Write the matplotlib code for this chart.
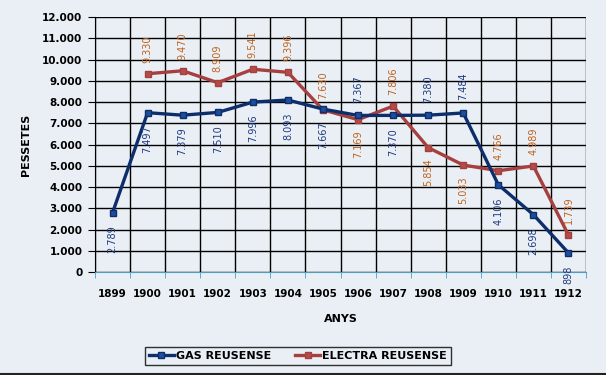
import matplotlib.pyplot as plt
from matplotlib.ticker import FuncFormatter

anys = ['1899', '1900', '1901', '1902', '1903', '1904', '1905', '1906',
        '1907', '1908', '1909', '1910', '1911', '1912']
gas = [2789, 7497, 7379, 7510, 7996, 8093, 7667, 7367, 7370, 7380, 7484, 4106, 2698, 898]
electra = [None, 9330, 9470, 8909, 9541, 9396, 7630, 7169, 7806, 5854, 5033, 4766, 4989, 1739]

# on posa l'etiqueta a sobre (1) o a sota (-1) del punt
gas_pos = [-1, -1, -1, -1, -1, -1, -1, 1, -1, 1, 1, -1, -1, -1]
ele_pos = [0, 1, 1, 1, 1, 1, 1, -1, 1, -1, -1, 1, 1, 1]

bg = '#e9eff5'
c_gas = '#0d2d6b'
c_gas_m = '#1c4f9c'
c_ele = '#a5403e'
c_ele_m = '#b24c4a'

fig = plt.figure(figsize=(6.06, 3.75), dpi=100, facecolor=bg)
ax = fig.add_axes([95/606, 1-272/375, (586-95)/606, (272-17)/375])
ax.set_facecolor(bg)

x = list(range(len(anys)))
ex = [i for i, v in zip(x, electra) if v is not None]
ev = [v for v in electra if v is not None]

ax.plot(x, gas, color=c_gas, lw=2.4, marker='s', ms=5, mfc=c_gas_m, mec=c_gas,
        label='GAS REUSENSE', zorder=4)
ax.plot(ex, ev, color=c_ele, lw=2.4, marker='s', ms=5, mfc=c_ele_m, mec=c_ele,
        label='ELECTRA REUSENSE', zorder=3)

def fmt(v):
    return f'{v:,}'.replace(',', '.')

for i, v in enumerate(gas):
    d = gas_pos[i]
    ax.annotate(fmt(v), (i, v), xytext=(0, 9*d), textcoords='offset points',
                rotation=90, ha='center', va='bottom' if d > 0 else 'top',
                fontsize=7, color='#1f3a80', zorder=5)
for i, v in enumerate(electra):
    if v is None:
        continue
    d = ele_pos[i]
    ax.annotate(fmt(v), (i, v), xytext=(0, 8*d), textcoords='offset points',
                rotation=90, ha='center', va='bottom' if d > 0 else 'top',
                fontsize=7, color='#c0621c', zorder=5)

ax.set_xlim(-0.5, 13.5)
ax.set_ylim(0, 12000)
ax.set_yticks(range(0, 12001, 1000))
ax.yaxis.set_major_formatter(FuncFormatter(lambda v, p: fmt(int(v))))
ax.set_xticks(x)
ax.set_xticklabels(anys)
ax.set_xticks([i - 0.5 for i in range(15)], minor=True)
ax.tick_params(axis='x', which='major', length=0, pad=12)
ax.tick_params(axis='x', which='minor', length=4, color='#4a9ec0', direction='out')
ax.tick_params(axis='y', length=5, color='black', pad=4)
for lab in ax.get_xticklabels() + ax.get_yticklabels():
    lab.set_fontweight('bold')
    lab.set_fontsize(7.5)

ax.grid(True, axis='y', color='black', lw=1)
ax.grid(True, axis='x', which='minor', color='black', lw=1)
ax.set_axisbelow(True)

for s in ['top', 'right']:
    ax.spines[s].set_visible(False)
ax.spines['left'].set_color('black')
ax.spines['bottom'].set_color('#4a9ec0')

ax.set_ylabel('PESSETES', fontsize=8, fontweight='bold', labelpad=8)
ax.set_xlabel('ANYS', fontsize=8, fontweight='bold', labelpad=11)

leg = fig.legend(loc='center', bbox_to_anchor=(298/606, 1-356/375), ncol=2,
                 fontsize=8, frameon=True, fancybox=False, edgecolor='black',
                 facecolor=bg, handlelength=2.2, handletextpad=0.2,
                 columnspacing=2.2, borderpad=0.4)
for t in leg.get_texts():
    t.set_fontweight('bold')
leg.get_frame().set_linewidth(1)

fig.add_artist(plt.Line2D([0, 1], [0.003, 0.003], color='#222222', lw=1.5,
                          transform=fig.transFigure))

fig.savefig('out.png', dpi=100, facecolor=bg)
